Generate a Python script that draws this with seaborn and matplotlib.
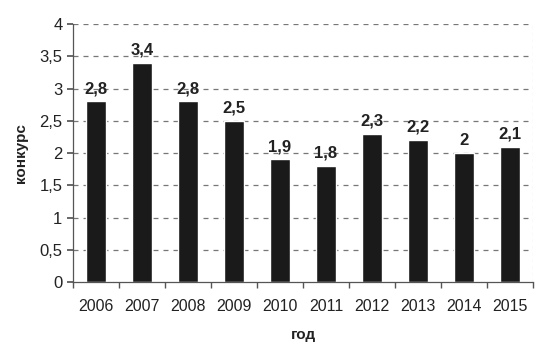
import pandas as pd
import numpy as np
import seaborn as sns
import matplotlib.pyplot as plt
from matplotlib.ticker import FuncFormatter, MultipleLocator

years = ['2006', '2007', '2008', '2009', '2010', '2011', '2012', '2013', '2014', '2015']
konkurs = [2.8, 3.4, 2.8, 2.5, 1.9, 1.8, 2.3, 2.2, 2.0, 2.1]

df = pd.DataFrame({'год': years, 'конкурс': konkurs})

sns.set_theme(style='white')
plt.rcParams['font.family'] = ['Liberation Sans', 'DejaVu Sans']

fig = plt.figure(figsize=(5.4, 3.53), dpi=100)
ax = fig.add_axes([0.135, 0.201, 0.852, 0.731])

# dashed horizontal gridlines
for yv in np.arange(0.5, 4.01, 0.5):
    ax.axhline(yv, color='#777777', linewidth=0.9, linestyle=(0, (4, 4)), zorder=0)
ax.axvline(len(years) - 0.5, color='#aaaaaa', linewidth=0.8, linestyle=(0, (3, 3)), zorder=0)

sns.barplot(x='год', y='конкурс', data=df, color='#1a1a1a', width=0.44,
            saturation=1, ax=ax, zorder=2)

ax.set_ylim(0, 4)
ax.set_xlim(-0.5, len(years) - 0.5)
ax.yaxis.set_major_locator(MultipleLocator(0.5))
ax.yaxis.set_major_formatter(FuncFormatter(lambda v, p: f'{v:g}'.replace('.', ',')))

for s in ['top', 'right']:
    ax.spines[s].set_visible(False)
for s in ['left', 'bottom']:
    ax.spines[s].set_color('#555555')
    ax.spines[s].set_linewidth(0.9)

# tick marks between categories
ax.set_xticks(np.arange(len(years)))
ax.set_xticklabels(years)
ax.set_xticks(np.arange(-0.5, len(years)), minor=True)
ax.tick_params(axis='x', which='major', length=0, labelsize=11.5, pad=12, colors='#222222')
ax.tick_params(axis='x', which='minor', length=4, direction='out', color='#555555', bottom=True)
ax.tick_params(axis='y', length=4, direction='out', left=True, color='#555555',
               labelsize=12, colors='#222222')

for i, v in enumerate(konkurs):
    ax.text(i, v + 0.08, f'{v:g}'.replace('.', ','), ha='center', va='bottom',
            fontsize=12, fontweight='bold', color='#222222')

ax.set_xlabel('год', fontsize=11, fontweight='bold', labelpad=10, color='#222222')
ax.set_ylabel('конкурс', fontsize=11, fontweight='bold', labelpad=8, color='#222222')

plt.savefig('out.png', dpi=100)
